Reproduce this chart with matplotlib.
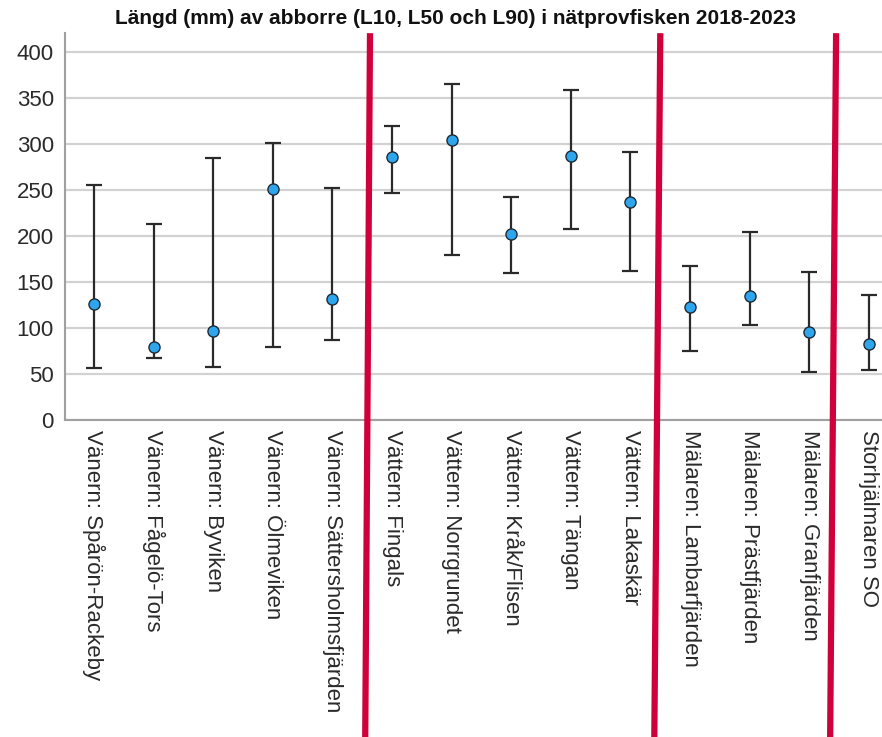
import matplotlib

matplotlib.use("Agg")
import matplotlib.pyplot as plt
import numpy as np

plt.rcParams.update(
    {
        "font.family": ["Liberation Sans", "DejaVu Sans"],
        "figure.facecolor": "white",
        "axes.facecolor": "white",
    }
)

sites = [
    "Vänern: Spårön-Rackeby",
    "Vänern: Fågelö-Tors",
    "Vänern: Byviken",
    "Vänern: Ölmeviken",
    "Vänern: Sättersholmsfjärden",
    "Vättern: Fingals",
    "Vättern: Norrgrundet",
    "Vättern: Kråk/Flisen",
    "Vättern: Tängan",
    "Vättern: Lakaskär",
    "Mälaren: Lambarfjärden",
    "Mälaren: Prästfjärden",
    "Mälaren: Granfjärden",
    "Storhjälmaren SO",
]
l10 = [57, 68, 58, 80, 87, 247, 179, 160, 208, 162, 75, 103, 52, 54]
l50 = [126, 79, 97, 251, 132, 286, 304, 202, 287, 237, 123, 135, 96, 83]
l90 = [256, 213, 285, 301, 252, 320, 365, 243, 359, 292, 168, 204, 161, 136]

# hand-drawn separators between lakes (x at top, x at bottom, in category units)
sep_top = [4.63, 9.5, 12.45]
sep_bot = [4.55, 9.4, 12.35]

x = np.arange(len(sites))
l10 = np.array(l10)
l50 = np.array(l50)
l90 = np.array(l90)

fig = plt.figure(figsize=(8.82, 7.37), dpi=100)
ax = fig.add_axes([0.0737, 0.430, 0.9263, 0.525])

ax.errorbar(
    x, l50, yerr=[l50 - l10, l90 - l50],
    fmt="none", ecolor="#2a2a2a", elinewidth=1.6, capsize=5.5, capthick=1.6, zorder=3,
)
ax.plot(x, l50, "o", color="#2EA6EE", markeredgecolor="#1f2a33",
        markeredgewidth=1.0, markersize=8, zorder=4)

ax.set_xlim(-0.487, 13.22)
ax.set_ylim(0, 420.7)
ax.set_yticks(np.arange(0, 401, 50))
ax.set_xticks(x)
ax.set_xticklabels(sites, rotation=270, ha="center", va="top")
ax.tick_params(axis="both", length=0, labelsize=16, colors="#2a2a2a")
ax.tick_params(axis="x", pad=7)
ax.tick_params(axis="y", pad=8)
ax.grid(axis="y", color="#d2d2d2", linewidth=1.6)
ax.set_axisbelow(True)
for side in ["top", "right"]:
    ax.spines[side].set_visible(False)
for side in ["left", "bottom"]:
    ax.spines[side].set_color("#a0a0a0")
    ax.spines[side].set_linewidth(1.5)

for xt, xb in zip(sep_top, sep_bot):
    ax.plot([xt, xb], [1.0, -0.82], color="#D0003A", linewidth=4.5,
            transform=ax.get_xaxis_transform(), clip_on=False, zorder=5,
            solid_capstyle="butt")

fig.text(0.516, 0.975, "Längd (mm) av abborre (L10, L50 och L90) i nätprovfisken 2018-2023",
         ha="center", va="center", fontsize=15, fontweight="bold", color="#111111")

fig.savefig("out.png", dpi=100)
